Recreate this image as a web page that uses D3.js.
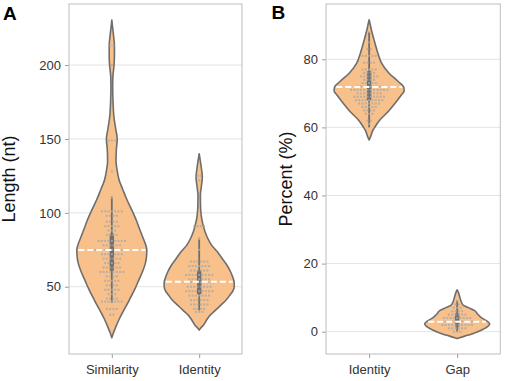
<!DOCTYPE html>
<html><head><meta charset="utf-8">
<script src="https://cdn.jsdelivr.net/npm/d3@7"></script>
<style>
body{margin:0;background:#fff}
svg{display:block}
text{font-family:"Liberation Sans",Arial,sans-serif}
</style>
</head><body>
<svg id="c" width="505" height="381"></svg>
<script>
// ---------- DATA ----------
const catsA = ["Similarity", "Identity"];
const catsB = ["Identity", "Gap"];
const ticksA = [50, 100, 150, 200];
const ticksB = [0, 20, 40, 60, 80];
const domainA = [4.5, 241.3];
const domainB = [-6.55, 96.24];

// violin density profiles (value, relative width)
const simDensV = [15.5, 19, 22, 28, 34, 41, 48, 55, 61, 66, 70, 75, 79, 82, 88, 95, 102, 109, 116, 122, 129, 135, 143, 150, 157, 165, 175, 185, 192, 199, 206, 213, 220, 226, 230.4];
const simDensW = [0, .05, .10, .21, .34, .50, .65, .78, .89, .96, .99, 1.0, .96, .91, .81, .70, .57, .43, .31, .21, .15, .12, .13, .155, .11, .06, .035, .025, .03, .06, .075, .075, .05, .02, 0];

const idaDensV = [20.7, 22.5, 24, 27, 31, 34, 37.6, 41, 44.4, 47, 50, 53, 55.7, 60, 64.7, 69, 73.6, 78, 83, 87, 92, 95, 100, 106, 112, 118, 124, 129, 134, 137, 140];
const idaDensW = [0, .06, .12, .20, .32, .46, .62, .77, .88, .96, 1.0, 1.0, .97, .90, .79, .66, .52, .36, .24, .17, .11, .08, .05, .037, .034, .063, .09, .07, .04, .02, 0];

const idbDensV = [56.3, 57.5, 59, 60.2, 62.1, 64.6, 67.1, 69.5, 70.7, 71.8, 73.4, 75.9, 78.8, 81.8, 85.7, 88.6, 90.5, 91.6];
const idbDensW = [0, .05, .10, .17, .30, .54, .74, .92, 1.0, .99, .84, .57, .36, .25, .14, .065, .025, 0];

const gapDensV = [-2, -1.3, -0.5, 0.5, 1.5, 2.3, 3.2, 4.2, 5.2, 6.2, 7, 7.7, 8.5, 10, 11.4, 12.3];
const gapDensW = [0, .22, .46, .70, .87, .93, .84, .68, .58, .50, .34, .18, .13, .08, .04, 0];

// summary stats: [whisker low, q1, median, q3, whisker high]
const simStats = [39, 61, 74.8, 86, 111];
const idaStats = [34, 45, 53.4, 61, 82];
const idbStats = [60, 68, 71.9, 76.5, 88];
const gapStats = [0, 1.5, 2.9, 5.4, 9.3];

// observation rows: value and number of points
const simDotV = [213, 200, 149, 128, 110, 101, 98, 94, 91, 88, 85, 81, 78, 75, 72, 69, 66, 63, 60, 57, 54, 51, 48, 45, 42, 40, 35, 31];
const simDotN = [2, 1, 3, 1, 1, 7, 4, 4, 5, 3, 4, 9, 6, 11, 7, 6, 5, 6, 8, 4, 5, 4, 5, 3, 4, 7, 4, 2];
const idaDotV = [125, 122, 91, 83, 75, 67, 64, 61, 58, 55, 53, 50, 47, 44, 41, 38, 35, 33];
const idaDotN = [2, 1, 4, 1, 1, 6, 7, 6, 9, 7, 10, 8, 9, 7, 6, 6, 4, 3];
const idbDotV = [88, 85, 83, 81, 79, 77, 76, 75, 74, 73, 72, 71, 70, 69, 68, 67, 66, 65, 64, 62, 61];
const idbDotN = [1, 1, 2, 5, 4, 5, 4, 6, 4, 5, 8, 12, 8, 10, 9, 7, 5, 4, 3, 2, 1];
const gapDotV = [9, 8, 7, 6, 5, 4, 3, 2, 1, 0];
const gapDotN = [1, 2, 3, 4, 6, 9, 12, 10, 6, 3];

// ---------- STYLE ----------
const fillCol = "#F8C08A", lineCol = "#6e6e6e", dotCol = "#a9a9a9";
const gridCol = "#e3e3e3", borderCol = "#bdbdbd", tickCol = "#9a9a9a", textCol = "#333";
const maxHalf = 35;

const svg = d3.select("#c");

function mk(dv, dw) { return dv.map((v, i) => ({v, w: dw[i]})); }
function rows(dv, dn) { return dv.map((v, i) => ({v, n: dn[i]})); }

const panelA = {
  x0: 69, x1: 242, y0: 4, y1: 354, cats: catsA, ticks: ticksA, domain: domainA,
  title: "Length (nt)", titleX: 14.8, letter: "A", letterX: 3, letterY: 20,
  groups: [
    {dens: mk(simDensV, simDensW), stats: simStats, dots: rows(simDotV, simDotN)},
    {dens: mk(idaDensV, idaDensW), stats: idaStats, dots: rows(idaDotV, idaDotN)}
  ]
};
const panelB = {
  x0: 326, x1: 500.3, y0: 4, y1: 354, cats: catsB, ticks: ticksB, domain: domainB,
  title: "Percent (%)", titleX: 291.5, letter: "B", letterX: 271.5, letterY: 19,
  groups: [
    {dens: mk(idbDensV, idbDensW), stats: idbStats, dots: rows(idbDotV, idbDotN)},
    {dens: mk(gapDensV, gapDensW), stats: gapStats, dots: rows(gapDotV, gapDotN)}
  ]
};

function widthAt(dens, v) {
  for (let i = 0; i < dens.length - 1; i++) {
    const a = dens[i], b = dens[i + 1];
    if (v >= a.v && v <= b.v) return a.w + (b.w - a.w) * (v - a.v) / (b.v - a.v);
  }
  return 0;
}

function drawPanel(p) {
  const y = d3.scaleLinear().domain(p.domain).range([p.y1, p.y0]);
  const x = d3.scalePoint().domain(p.cats).range([p.x0, p.x1]).padding(0.49);
  const w = d3.scaleLinear().domain([0, 1]).range([0, maxHalf]);
  const g = svg.append("g");

  // grid
  g.selectAll(".grid").data(p.ticks).join("line")
    .attr("x1", p.x0).attr("x2", p.x1)
    .attr("y1", d => y(d)).attr("y2", d => y(d))
    .attr("stroke", gridCol).attr("stroke-width", 1);

  // axes
  const ay = g.append("g").attr("transform", `translate(${p.x0},0)`)
    .call(d3.axisLeft(y).tickValues(p.ticks).tickSize(4).tickPadding(4));
  const ax = g.append("g").attr("transform", `translate(0,${p.y1})`)
    .call(d3.axisBottom(x).tickSize(4).tickPadding(7));
  [ay, ax].forEach(a => {
    a.select(".domain").remove();
    a.selectAll(".tick line").attr("stroke", tickCol).attr("stroke-width", 1);
    a.selectAll(".tick text").attr("fill", textCol).attr("font-size", 13)
      .attr("font-family", '"Liberation Sans",Arial,sans-serif');
  });

  // border
  g.append("rect").attr("x", p.x0).attr("y", p.y0)
    .attr("width", p.x1 - p.x0).attr("height", p.y1 - p.y0)
    .attr("fill", "none").attr("stroke", borderCol).attr("stroke-width", 1);

  p.groups.forEach((grp, i) => {
    const cx = x(p.cats[i]);
    const area = d3.area()
      .y(d => y(d.v))
      .x0(d => cx - w(d.w))
      .x1(d => cx + w(d.w))
      .curve(d3.curveMonotoneY);
    g.append("path").datum(grp.dens).attr("d", area)
      .attr("fill", fillCol).attr("stroke", lineCol).attr("stroke-width", 1.6)
      .attr("stroke-linejoin", "round");

    const s = grp.stats;
    // whisker
    g.append("line").attr("x1", cx).attr("x2", cx)
      .attr("y1", y(s[0])).attr("y2", y(s[4]))
      .attr("stroke", lineCol).attr("stroke-width", 1.8);
    // box
    g.append("rect").attr("x", cx - 2.2).attr("width", 4.4)
      .attr("y", y(s[3])).attr("height", y(s[1]) - y(s[3]))
      .attr("fill", "#707070");

    // dots
    const pts = [];
    grp.dots.forEach(r => {
      for (let k = 0; k < r.n; k++) pts.push({v: r.v, off: (k - (r.n - 1) / 2) * 3.3});
    });
    g.selectAll(null).data(pts).join("rect")
      .attr("x", d => cx + d.off - 1).attr("y", d => y(d.v) - 1)
      .attr("width", 2).attr("height", 2)
      .attr("fill", dotCol).attr("opacity", 0.8);

    // median dashed
    const hw = w(widthAt(grp.dens, s[2])) - 1.5;
    g.append("line").attr("x1", cx - hw).attr("x2", cx + hw)
      .attr("y1", y(s[2])).attr("y2", y(s[2]))
      .attr("stroke", "#fff").attr("stroke-width", 2)
      .attr("stroke-dasharray", "6,3");
  });

  // axis title
  svg.append("text").attr("transform", `translate(${p.titleX},${(p.y0 + p.y1) / 2}) rotate(-90)`)
    .attr("text-anchor", "middle").attr("font-size", 18).attr("fill", "#111").text(p.title);
  // panel letter
  svg.append("text").attr("x", p.letterX).attr("y", p.letterY)
    .attr("font-size", 19).attr("font-weight", "bold").attr("fill", "#000").text(p.letter);
}

drawPanel(panelA);
drawPanel(panelB);
</script>
</body></html>
